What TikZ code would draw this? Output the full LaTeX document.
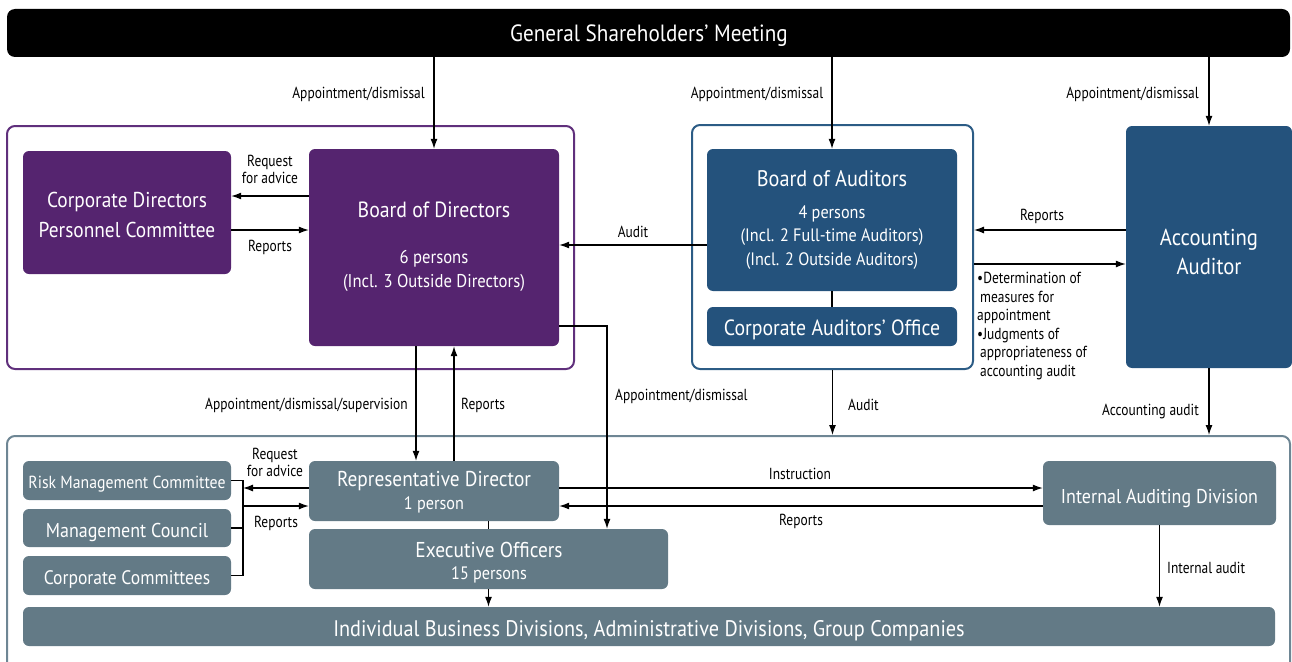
\documentclass[tikz,border=0pt]{standalone}
\usepackage{fontspec}
\setmainfont{PT Sans}
\newfontfamily\labfont[FakeStretch=0.84]{PT Sans}
\newfontfamily\boxfont[FakeStretch=0.9]{PT Sans}
\usetikzlibrary{arrows.meta}
\definecolor{purp}{RGB}{85,36,111}
\definecolor{purpline}{RGB}{96,48,124}
\definecolor{blu}{RGB}{36,82,124}
\definecolor{bluline}{RGB}{44,92,133}
\definecolor{gry}{RGB}{99,122,134}
\definecolor{gryline}{RGB}{110,134,148}
\tikzset{
  box/.style={rounded corners=6pt, inner sep=0pt, text=white, align=center,
    font=\boxfont\fontsize{22}{24}\selectfont},
  pbox/.style={box, fill=purp},
  bbox/.style={box, fill=blu},
  gbox/.style={box, fill=gry},
  txt/.style={inner sep=0pt, text=white, align=center, font=\boxfont\fontsize{22}{24}\selectfont},
  cont/.style={rounded corners=8pt, line width=2pt, inner sep=0pt},
  lab/.style={inner sep=0pt, align=center, font=\labfont\fontsize{16}{17}\selectfont},
  arr/.style={line width=1.2pt, -{Latex[length=10pt,width=7pt]}},
  ln/.style={line width=1.2pt}
}
\begin{document}
\begin{tikzpicture}[x=1pt,y=-1pt]
\useasboundingbox (0,0) rectangle (1292,661);
\clip (0,0) rectangle (1292,661);
% containers
\node[cont, draw=purpline, minimum width=567pt, minimum height=243pt] (pcont) at (290.5,247.5) {};
\node[cont, draw=bluline, minimum width=281pt, minimum height=244pt] (acont) at (832.5,247) {};
\node[cont, draw=gryline, minimum width=1283pt, minimum height=244pt] (gcont) at (648.5,558) {};
% top bar
\node[box, fill=black, rounded corners=8pt, minimum width=1283pt, minimum height=48pt] (gsm) at (648.5,33) {};
\node[txt, font=\boxfont\fontsize{23.5}{24}\selectfont] (gsmt) at (649,36) {General Shareholders’ Meeting};
% purple
\node[pbox, minimum width=208pt, minimum height=123pt] (cdpc) at (127,212.5) {};
\node[txt, font=\boxfont\fontsize{21.5}{30}\selectfont] (cdpct) at (127,215) {Corporate Directors\\Personnel Committee};
\node[pbox, minimum width=250pt, minimum height=197pt] (bod) at (434,247.5) {};
\node[txt] (bodt1) at (434,209.5) {Board of Directors};
\node[txt, font=\boxfont\fontsize{18.5}{24}\selectfont] (bodt2) at (434,271) {6 persons\\(Incl. 3 Outside Directors)};
% blue
\node[bbox, minimum width=250pt, minimum height=142pt] (boa) at (832,220) {};
\node[txt, font=\boxfont\fontsize{22.5}{24}\selectfont] (boat1) at (832,179) {Board of Auditors};
\node[txt, font=\boxfont\fontsize{18}{23.5}\selectfont] (boat2) at (832,237.5) {4 persons\\(Incl. 2 Full-time Auditors)\\(Incl. 2 Outside Auditors)};
\node[bbox, minimum width=250pt, minimum height=39pt] (cao) at (832,326.5) {};
\node[txt] (caot) at (832,330) {Corporate Auditors’ Office};
\node[bbox, minimum width=166pt, minimum height=242pt] (acc) at (1209,247) {};
\node[txt, font=\boxfont\fontsize{23}{29}\selectfont] (acct) at (1209,251.5) {Accounting\\Auditor};
% gray
\node[gbox, minimum width=208pt, minimum height=39pt] (risk) at (127,480.5) {};
\node[txt, font=\boxfont\fontsize{17.5}{20}\selectfont] (riskt) at (127,484) {Risk Management Committee};
\node[gbox, minimum width=208pt, minimum height=38pt] (mc) at (127,528) {};
\node[txt, font=\boxfont\fontsize{20}{20}\selectfont] (mct) at (127,532) {Management Council};
\node[gbox, minimum width=208pt, minimum height=39pt] (cc) at (127,575.5) {};
\node[txt, font=\boxfont\fontsize{19.5}{20}\selectfont] (cct) at (127,579.5) {Corporate Committees};
\node[gbox, minimum width=250pt, minimum height=60pt] (rd) at (434,491) {};
\node[txt, font=\boxfont\fontsize{21.5}{24}\selectfont] (rdt1) at (434,481) {Representative Director};
\node[txt, font=\boxfont\fontsize{18}{24}\selectfont] (rdt2) at (434,505) {1 person};
\node[gbox, minimum width=359pt, minimum height=60pt] (eo) at (488.5,559) {};
\node[txt, font=\boxfont\fontsize{21.5}{24}\selectfont] (eot1) at (489,549.5) {Executive Officers};
\node[txt, font=\boxfont\fontsize{18}{24}\selectfont] (eot2) at (489,574.5) {15 persons};
\node[gbox, minimum width=233pt, minimum height=64pt] (iad) at (1159.5,493) {};
\node[txt, font=\boxfont\fontsize{20}{24}\selectfont] (iadt) at (1159.5,499) {Internal Auditing Division};
\node[gbox, minimum width=1252pt, minimum height=39pt] (ibd) at (649,626.5) {};
\node[txt, font=\boxfont\fontsize{22.5}{24}\selectfont] (ibdt) at (649,630.5) {Individual Business Divisions, Administrative Divisions, Group Companies};
% connectors top
\draw[arr] (bod.north |- gsm.south) -- (bod.north);
\draw[arr] (boa.north |- gsm.south) -- (boa.north);
\draw[arr] (acc.north |- gsm.south) -- (acc.north);
\node[lab, anchor=east] (l1) at (425,94) {Appointment/dismissal};
\node[lab] (l2) at (757,94) {Appointment/dismissal};
\node[lab, anchor=east] (l3) at (1199,94) {Appointment/dismissal};
% purple region
\draw[arr] (bod.west |- 0,196) -- (cdpc.east |- 0,196);
\draw[arr] (cdpc.east |- 0,230) -- (bod.west |- 0,230);
\node[lab] (l4) at (270,169) {Request\\for advice};
\node[lab] (l5) at (270,247) {Reports};
% auditors
\draw[arr] (boa.west |- 0,245) -- (bod.east |- 0,245);
\node[lab] (l6) at (633,232) {Audit};
\draw[arr] (acc.west |- 0,230) -- (acont.east |- 0,230);
\node[lab] (l7) at (1042,216) {Reports};
\draw[arr] (acont.east |- 0,264) -- (acc.west |- 0,264);
\node[lab, anchor=north west, align=left, font=\labfont\fontsize{16}{18.6}\selectfont] (l8) at (977,272)
  {•Determination of\\\hspace*{3pt}measures for\\appointment\\•Judgments of\\\hspace*{3pt}appropriateness of\\\hspace*{3pt}accounting audit};
\draw[ln] (boa.south) -- (cao.north);
% middle
\draw[arr] (bod.south -| 416,0) -- (rd.north -| 416,0);
\draw[arr] (rd.north -| 454,0) -- (bod.south -| 454,0);
\node[lab, anchor=east] (l9) at (408,405) {Appointment/dismissal/supervision};
\node[lab, anchor=west] (l10) at (461,405) {Reports};
\draw[arr] (bod.east |- 0,326) -| (eo.north -| 607,0);
\node[lab, anchor=west] (l11) at (615,396) {Appointment/dismissal};
\draw[arr] (acont.south) -- (gcont.north -| acont.south);
\node[lab, anchor=west] (l12) at (848,405) {Audit};
\draw[arr] (acc.south) -- (gcont.north -| acc.south);
\node[lab, anchor=east] (l13) at (1199,412) {Accounting audit};
% bottom
\coordinate (brk) at (243,0);
\draw[ln] (risk.east) -- (risk.east -| brk) -- (cc.east -| brk) -- (cc.east);
\draw[ln] (mc.east) -- (mc.east -| brk);
\draw[arr] (rd.west |- 0,488) -- (brk |- 0,488);
\draw[arr] (brk |- 0,506) -- (rd.west |- 0,506);
\node[lab] (l14) at (275,462) {Request\\for advice};
\node[lab] (l15) at (276,523) {Reports};
\draw[arr] (rd.east |- 0,488) -- (iad.west |- 0,488);
\draw[arr] (iad.west |- 0,506) -- (rd.east |- 0,506);
\node[lab] (l16) at (800,474) {Instruction};
\node[lab] (l17) at (801,521) {Reports};
\draw[ln] (rd.south -| eo.north) -- (eo.north);
\draw[arr] (eo.south) -- (ibd.north -| eo.south);
\draw[arr] (iad.south) -- (ibd.north -| iad.south);
\node[lab, anchor=west] (l18) at (1167,568) {Internal audit};
\end{tikzpicture}
\end{document}
